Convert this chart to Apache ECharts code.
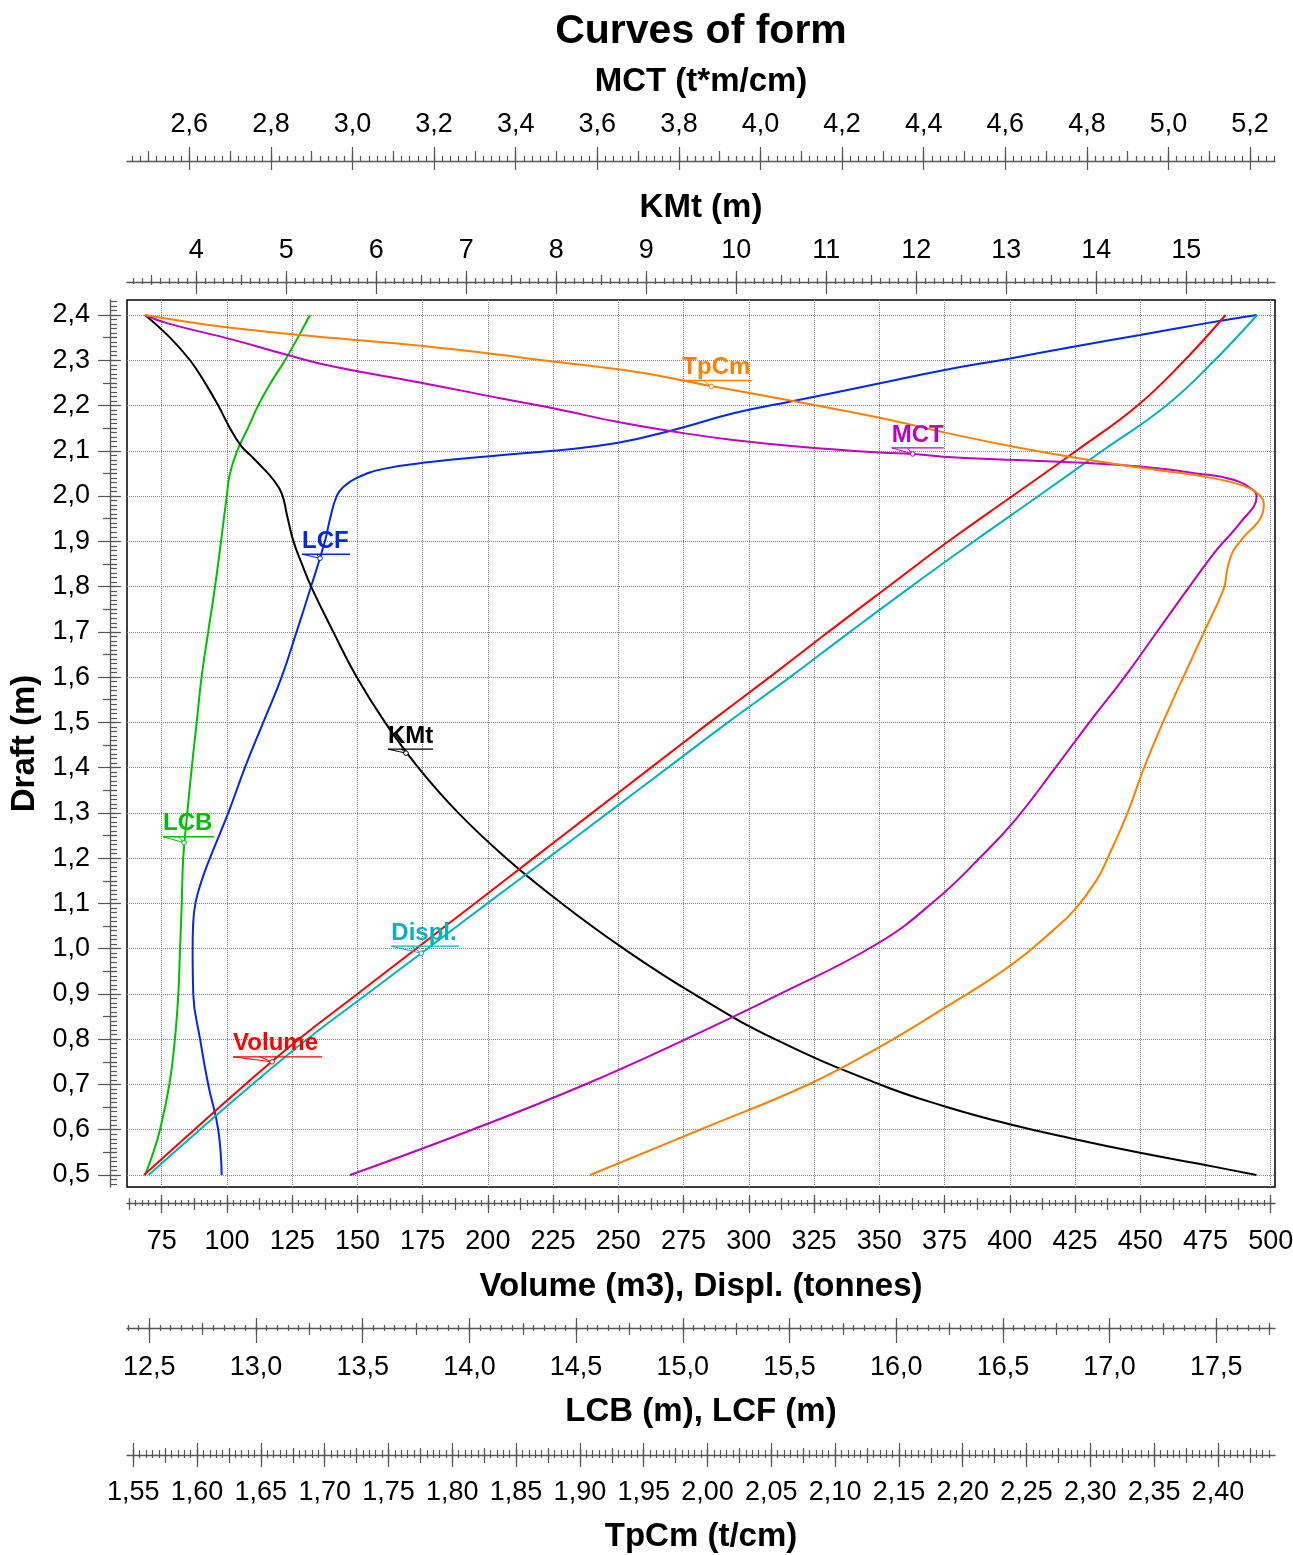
<!DOCTYPE html>
<html>
<head>
<meta charset="utf-8">
<title>Curves of form</title>
<script src="https://cdn.jsdelivr.net/npm/echarts@6/dist/echarts.min.js"></script>
<style>
  html, body { margin: 0; padding: 0; background: #fff; }
  #chart { width: 1293px; height: 1555px; }
</style>
</head>
<body>
<div id="chart"></div>
<script>
// ---------- tick labels of every scale ----------
const draftTicks  = [0.5, 0.6, 0.7, 0.8, 0.9, 1.0, 1.1, 1.2, 1.3, 1.4, 1.5, 1.6, 1.7, 1.8, 1.9, 2.0, 2.1, 2.2, 2.3, 2.4];
const volumeTicks = [75, 100, 125, 150, 175, 200, 225, 250, 275, 300, 325, 350, 375, 400, 425, 450, 475, 500];
const lcbTicks    = [12.5, 13.0, 13.5, 14.0, 14.5, 15.0, 15.5, 16.0, 16.5, 17.0, 17.5];
const tpcmTicks   = [1.55, 1.60, 1.65, 1.70, 1.75, 1.80, 1.85, 1.90, 1.95, 2.00, 2.05, 2.10, 2.15, 2.20, 2.25, 2.30, 2.35, 2.40];
const kmtTicks    = [4, 5, 6, 7, 8, 9, 10, 11, 12, 13, 14, 15];
const mctTicks    = [2.6, 2.8, 3.0, 3.2, 3.4, 3.6, 3.8, 4.0, 4.2, 4.4, 4.6, 4.8, 5.0, 5.2];

// ---------- hydrostatic curves (draft in m) ----------
const volDraft = [0.5, 0.6, 0.7, 0.8, 0.9, 1.0, 1.1, 1.2, 1.3, 1.4, 1.5, 1.6, 1.7, 1.8, 1.9, 2.0, 2.1, 2.2, 2.3, 2.4];
const volume   = [68.2, 87.5, 107, 127.5, 150, 172.5, 195, 217.5, 240, 262.5, 285, 308, 330.5, 353.5, 376.5, 401, 425.5, 449, 467, 482.7];
const displ    = [70.0, 89.6, 109.7, 130.7, 153.7, 176.8, 199.8, 223, 246, 269, 292, 315.8, 338.8, 362.2, 386.3, 411, 435.5, 460, 478.5, 494.8];

const lcbDraft = [0.5, 0.55, 0.6, 0.7, 0.8, 0.9, 1.0, 1.1, 1.2, 1.3, 1.4, 1.5, 1.6, 1.7, 1.8, 1.9, 2.0, 2.05, 2.1, 2.15, 2.2, 2.25, 2.3, 2.35, 2.4];
const lcb      = [12.48, 12.519, 12.55, 12.594, 12.62, 12.636, 12.644, 12.652, 12.659, 12.678, 12.699, 12.722, 12.745, 12.776, 12.808, 12.836, 12.863, 12.878, 12.912, 12.962, 13.01, 13.069, 13.136, 13.196, 13.253];

const lcfDraft = [0.5, 0.6, 0.7, 0.8, 0.9, 1.0, 1.05, 1.1, 1.15, 1.2, 1.3, 1.4, 1.5, 1.6, 1.7, 1.8, 1.9, 1.95, 2.0, 2.02, 2.04, 2.06, 2.075, 2.09, 2.1, 2.117, 2.146, 2.183, 2.21, 2.249, 2.278, 2.304, 2.33, 2.356, 2.382, 2.4];
const lcf      = [12.839, 12.823, 12.776, 12.738, 12.706, 12.703, 12.705, 12.716, 12.745, 12.784, 12.87, 12.948, 13.034, 13.12, 13.19, 13.258, 13.323, 13.347, 13.378, 13.409, 13.472, 13.597, 13.815, 14.143, 14.392, 14.69, 14.956, 15.237, 15.518, 15.924, 16.221, 16.534, 16.83, 17.143, 17.455, 17.689];

const kmtDraft = [0.5, 0.522, 0.549, 0.579, 0.612, 0.652, 0.7, 0.8, 0.9, 1.0, 1.1, 1.2, 1.3, 1.4, 1.5, 1.6, 1.7, 1.8, 1.851, 1.901, 1.955, 2.006, 2.036, 2.061, 2.091, 2.109, 2.15, 2.2, 2.25, 2.3, 2.35, 2.4];
const kmt      = [15.78, 15.211, 14.486, 13.763, 13.038, 12.31, 11.596, 10.43, 9.528, 8.75, 8.061, 7.444, 6.911, 6.467, 6.097, 5.782, 5.522, 5.276, 5.171, 5.078, 5.011, 4.949, 4.856, 4.744, 4.597, 4.504, 4.374, 4.244, 4.097, 3.93, 3.708, 3.43];

const mctDraft = [0.5, 0.6, 0.7, 0.8, 0.9, 1.012, 1.108, 1.203, 1.284, 1.399, 1.5, 1.601, 1.699, 1.807, 1.881, 1.94, 2.0, 2.013, 2.036, 2.05, 2.065, 2.074, 2.08, 2.087, 2.093, 2.096, 2.109, 2.124, 2.139, 2.164, 2.194, 2.216, 2.251, 2.286, 2.312, 2.345, 2.382, 2.4];
const mct      = [2.994, 3.293, 3.57, 3.817, 4.048, 4.288, 4.43, 4.54, 4.624, 4.722, 4.806, 4.893, 4.971, 5.057, 5.118, 5.175, 5.216, 5.208, 5.159, 5.069, 4.93, 4.775, 4.612, 4.448, 4.373, 4.293, 4.097, 3.933, 3.811, 3.648, 3.492, 3.362, 3.165, 2.953, 2.839, 2.708, 2.545, 2.491];

const tpcmDraft = [0.5, 0.6, 0.7, 0.783, 0.868, 0.962, 1.041, 1.087, 1.152, 1.203, 1.299, 1.399, 1.52, 1.619, 1.699, 1.796, 1.837, 1.874, 1.896, 1.918, 1.94, 1.966, 1.984, 2.0, 2.017, 2.039, 2.061, 2.083, 2.109, 2.139, 2.173, 2.21, 2.242, 2.275, 2.297, 2.312, 2.332, 2.349, 2.371, 2.4];
const tpcm      = [1.908, 1.994, 2.079, 2.135, 2.185, 2.237, 2.271, 2.288, 2.305, 2.314, 2.329, 2.342, 2.36, 2.376, 2.389, 2.4046, 2.4072, 2.4111, 2.4163, 2.4229, 2.4307, 2.4354, 2.4359, 2.4333, 2.425, 2.397, 2.344, 2.292, 2.24, 2.188, 2.135, 2.067, 2.005, 1.942, 1.879, 1.837, 1.775, 1.707, 1.628, 1.559];

// ---------- styling ----------
const FONT = "'Liberation Sans', Arial, Helvetica, sans-serif";
const AXIS_GREY = '#555';
const C = {
  volume: '#ff0000', displ: '#00b4c0', lcb: '#00c000', lcf: '#0028e6',
  kmt: '#000000', mct: '#c000c0', tpcm: '#ff8000'
};

function steps(from, to, step) {
  const out = [];
  const n = Math.round((to - from) / step);
  for (let i = 0; i <= n; i++) out.push(+(from + i * step).toFixed(6));
  return out;
}
const comma = d => v => v.toFixed(d).replace('.', ',');

// One scale = a labelled axis plus tick-only layers (ticks on both sides of the rule)
function scaleAxes(o) {
  const tickStyle = { color: AXIS_GREY, width: 1.2 };
  const base = {
    type: 'value', gridIndex: 0, position: o.position, offset: o.offset,
    min: o.min, max: o.max, minorTick: { show: false }, minorSplitLine: { show: false }
  };
  const list = [Object.assign({}, base, {
    name: o.name, nameLocation: 'middle', nameGap: o.nameGap,
    nameTextStyle: { fontFamily: FONT, fontSize: 33, fontWeight: 'bold', color: '#000' },
    axisLine: { show: true, onZero: false, lineStyle: { color: AXIS_GREY, width: 1.3 } },
    axisTick: { show: true, inside: false, length: o.major[0], customValues: o.labels, lineStyle: tickStyle },
    axisLabel: { show: true, customValues: o.labels, formatter: o.fmt, margin: o.labelMargin,
                 fontFamily: FONT, fontSize: 27, color: '#000' },
    splitLine: { show: !!o.grid, lineStyle: { color: '#808080', width: 1, type: [1, 1] } }
  })];
  const layer = (vals, len, inside) => {
    if (!len) return;
    list.push(Object.assign({}, base, {
      axisLine: { show: false }, axisLabel: { show: false }, splitLine: { show: false },
      axisTick: { show: true, inside: inside, length: len, customValues: vals, lineStyle: tickStyle }
    }));
  };
  layer(o.labels, o.major[1], true);
  layer(o.medium.values, o.medium.len[0], false);
  layer(o.medium.values, o.medium.len[1], true);
  layer(o.small.values, o.small.len[0], false);
  layer(o.small.values, o.small.len[1], true);
  return list;
}

// ---------- axes ----------
const xAxes = [];
const xIndex = {};
function addX(key, cfg) { xIndex[key] = xAxes.length; scaleAxes(cfg).forEach(a => xAxes.push(a)); }

addX('volume', {
  position: 'bottom', offset: 16, min: 61.7, max: 501.65, labels: volumeTicks, fmt: v => String(v),
  name: 'Volume (m3), Displ. (tonnes)', nameGap: 67, labelMargin: 25, grid: true,
  major: [10, 8], medium: { values: steps(62.5, 500, 12.5), len: [7, 5] }, small: { values: steps(62.5, 500, 2.5), len: [3, 3] }
});
addX('lcb', {
  position: 'bottom', offset: 141, min: 12.3955, max: 17.775, labels: lcbTicks, fmt: comma(1),
  name: 'LCB (m), LCF (m)', nameGap: 67, labelMargin: 26,
  major: [15, 10], medium: { values: steps(12.25, 17.75, 0.25), len: [7, 5] }, small: { values: steps(12.4, 17.75, 0.05), len: [3, 3] }
});
addX('tpcm', {
  position: 'bottom', offset: 268, min: 1.5451, max: 2.4447, labels: tpcmTicks, fmt: comma(2),
  name: 'TpCm (t/cm)', nameGap: 65, labelMargin: 24,
  major: [12, 12], medium: { values: steps(1.55, 2.425, 0.025), len: [8, 7] }, small: { values: steps(1.55, 2.44, 0.005), len: [3, 5] }
});
addX('kmt', {
  position: 'top', offset: 18, min: 3.23, max: 15.986, labels: kmtTicks, fmt: v => String(v),
  name: 'KMt (m)', nameGap: 58, labelMargin: 18,
  major: [11, 12], medium: { values: steps(3.5, 15.5, 0.5), len: [7, 3] }, small: { values: steps(3.3, 15.9, 0.1), len: [4, 2] }
});
addX('mct', {
  position: 'top', offset: 139, min: 2.4473, max: 5.261, labels: mctTicks, fmt: comma(1),
  name: 'MCT (t*m/cm)', nameGap: 63, labelMargin: 23,
  major: [14, 9], medium: { values: steps(2.5, 5.2, 0.1), len: [10, 0] }, small: { values: steps(2.46, 5.26, 0.02), len: [5, 0] }
});

const yAxes = scaleAxes({
  position: 'left', offset: 17, min: 0.4735, max: 2.4331, labels: draftTicks, fmt: comma(1),
  name: 'Draft (m)', nameGap: 66, labelMargin: 20, grid: true,
  major: [12, 11], medium: { values: steps(0.55, 2.35, 0.1), len: [7, 7] }, small: { values: steps(0.48, 2.43, 0.01), len: [0, 7] }
});

// ---------- curve series ----------
const pairs = (xs, ds) => xs.map((x, i) => [x, ds[i]]);
function curve(name, key, values, drafts) {
  return {
    name, type: 'line', xAxisIndex: xIndex[key === 'displ' ? 'volume' : key === 'lcf' ? 'lcb' : key],
    yAxisIndex: 0, data: pairs(values, drafts), showSymbol: false, smooth: 0.45,
    lineStyle: { color: C[key], width: 2 }, itemStyle: { color: C[key] }, z: 3, silent: true
  };
}

// curve labels: underlined name with a leader to a marker on the curve
const curveNotes = [
  { text: 'TpCm',   key: 'tpcm',   axis: 'tpcm',   at: [2.003, 2.242], dx: -29, dy: -6, len: 70 },
  { text: 'MCT',    key: 'mct',    axis: 'mct',    at: [4.373, 2.093], dx: -21, dy: -6, len: 52 },
  { text: 'LCF',    key: 'lcf',    axis: 'lcb',    at: [13.3, 1.8626], dx: -18, dy: -4, len: 48 },
  { text: 'LCB',    key: 'lcb',    axis: 'lcb',    at: [12.663, 1.234], dx: -21, dy: -6, len: 51 },
  { text: 'KMt',    key: 'kmt',    axis: 'kmt',    at: [6.33, 1.432], dx: -18, dy: -4, len: 45 },
  { text: 'Volume', key: 'volume', axis: 'volume', at: [117.3, 0.75], dx: -39, dy: -5, len: 89 },
  { text: 'Displ.', key: 'displ',  axis: 'volume', at: [174.5, 0.99], dx: -30, dy: -7, len: 68 }
];
function noteSeries(note) {
  const color = C[note.key];
  return {
    type: 'custom', xAxisIndex: xIndex[note.axis], yAxisIndex: 0, data: [note.at],
    silent: true, clip: false, z: 5,
    renderItem: (params, api) => {
      const p = api.coord([api.value(0), api.value(1)]);
      const ux = p[0] + note.dx, uy = p[1] + note.dy;
      return {
        type: 'group',
        children: [
          { type: 'line', shape: { x1: ux, y1: uy, x2: ux + note.len, y2: uy }, style: { stroke: color, lineWidth: 1.3 } },
          { type: 'polyline', shape: { points: [[ux, uy], [p[0], p[1]], [ux + note.len * 0.3, uy]] },
            style: { stroke: color, fill: null, lineWidth: 1 } },
          { type: 'circle', shape: { cx: p[0], cy: p[1], r: 2.3 }, style: { fill: '#fff', stroke: color, lineWidth: 1 } },
          { type: 'text', x: ux, y: uy - 1,
            style: { text: note.text, fill: color, font: 'bold 24px ' + FONT,
                     align: 'left', verticalAlign: 'bottom', textAlign: 'left', textVerticalAlign: 'bottom' } }
        ]
      };
    }
  };
}

const series = [
  curve('LCB', 'lcb', lcb, lcbDraft),
  curve('LCF', 'lcf', lcf, lcfDraft),
  curve('KMt', 'kmt', kmt, kmtDraft),
  curve('Volume', 'volume', volume, volDraft),
  curve('Displ.', 'displ', displ, volDraft),
  curve('MCT', 'mct', mct, mctDraft),
  curve('TpCm', 'tpcm', tpcm, tpcmDraft)
].concat(curveNotes.map(noteSeries));

const chart = echarts.init(document.getElementById('chart'), null, { renderer: 'canvas', width: 1293, height: 1555 });
chart.setOption({
  animation: false,
  backgroundColor: '#fff',
  title: {
    text: 'Curves of form', left: 701, top: 11, textAlign: 'center', padding: 0,
    textStyle: { fontFamily: FONT, fontSize: 41, fontWeight: 'bold', color: '#000' }
  },
  grid: {
    left: 127, right: 18, top: 300, bottom: 368, show: true,
    borderColor: '#000', borderWidth: 1.5, backgroundColor: 'transparent',
    containLabel: false, outerBoundsMode: 'none'
  },
  xAxis: xAxes,
  yAxis: yAxes,
  series: series
});
</script>
</body>
</html>
